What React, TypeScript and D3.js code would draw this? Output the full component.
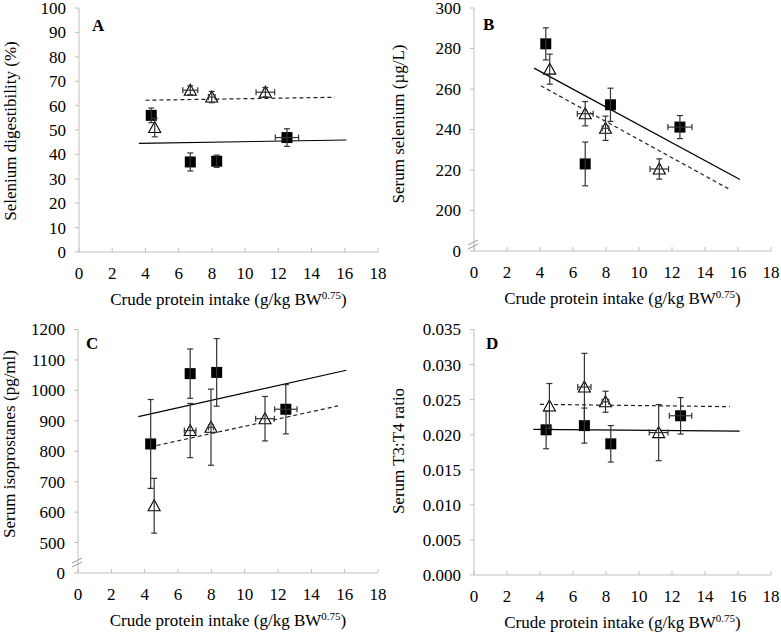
import React from "react";
import * as d3 from "d3";

// ---------- shared ----------
const xTicks = [0, 2, 4, 6, 8, 10, 12, 14, 16, 18];
const xTitleMain = "Crude protein intake (g/kg BW";
const xTitleSup = "0.75";
const xTitleEnd = ")";

// ---------- Panel A: Selenium digestibility ----------
const aYTicks = [0, 10, 20, 30, 40, 50, 60, 70, 80, 90, 100];
const aSqX = [4.35, 6.7, 8.29, 12.52];
const aSqY = [56.0, 36.9, 37.2, 46.9];
const aSqYErr = [3.0, 3.7, 2.5, 3.6];
const aSqXErr = [0, 0, 0, 0.7];
const aTriX = [4.56, 6.7, 7.99, 11.22];
const aTriY = [51.0, 66.3, 63.5, 65.5];
const aTriYErr = [3.8, 1.8, 2.3, 1.9];
const aTriXErr = [0, 0.45, 0.2, 0.56];
const aSolidX = [3.6, 16.1];
const aSolidY = [44.5, 45.9];
const aDashX = [4.0, 15.4];
const aDashY = [62.2, 63.4];

// ---------- Panel B: Serum selenium ----------
const bYTicks = [0, 200, 220, 240, 260, 280, 300];
const bSqX = [4.35, 6.74, 8.27, 12.48];
const bSqY = [282.3, 223.0, 252.2, 241.2];
const bSqYErr = [7.9, 10.8, 8.2, 5.7];
const bSqXErr = [0, 0, 0, 0.73];
const bTriX = [4.59, 6.74, 7.97, 11.23];
const bTriY = [269.8, 247.8, 240.6, 220.5];
const bTriYErr = [7.4, 6.0, 6.0, 5.0];
const bTriXErr = [0, 0.48, 0.2, 0.56];
const bSolidX = [3.64, 16.12];
const bSolidY = [270.3, 215.3];
const bDashX = [4.05, 15.41];
const bDashY = [261.6, 210.8];

// ---------- Panel C: Serum isoprostanes ----------
const cYTicks = [0, 500, 600, 700, 800, 900, 1000, 1100, 1200];
const cSqX = [4.36, 6.73, 8.32, 12.47];
const cSqY = [824, 1055, 1059, 938];
const cSqYErr = [146, 81, 111, 81];
const cSqXErr = [0, 0, 0, 0.67];
const cTriX = [4.57, 6.73, 7.98, 11.22];
const cTriY = [621, 868, 879, 907];
const cTriYErr = [90, 89, 125, 73];
const cTriXErr = [0, 0.35, 0.15, 0.56];
const cSolidX = [3.62, 16.1];
const cSolidY = [914, 1066];
const cDashX = [4.72, 15.6];
const cDashY = [819, 949];

// ---------- Panel D: Serum T3:T4 ratio ----------
const dYTicks = [0, 0.005, 0.01, 0.015, 0.02, 0.025, 0.03, 0.035];
const dSqX = [4.37, 6.69, 8.29, 12.52];
const dSqY = [0.0207, 0.0213, 0.0187, 0.0227];
const dSqYErr = [0.0027, 0.0025, 0.0026, 0.0026];
const dSqXErr = [0, 0, 0, 0.68];
const dTriX = [4.57, 6.69, 7.97, 11.19];
const dTriY = [0.0241, 0.0268, 0.0247, 0.0203];
const dTriYErr = [0.0032, 0.0048, 0.0015, 0.004];
const dTriXErr = [0, 0.4, 0.2, 0.57];
const dSolidX = [3.6, 16.1];
const dSolidY = [0.02077, 0.0205];
const dDashX = [4.0, 15.5];
const dDashY = [0.02433, 0.0240];

const FONT = "'Times New Roman', 'Liberation Serif', serif";
const AXIS = "#bfbfbf";
const ERR = "#333";

type PanelProps = {
  letter: string;
  letterPos: [number, number];
  x0: number;
  x1: number;
  yDomain: number[];
  yRange: number[];
  yTicks: number[];
  yFmt: (v: number) => string;
  yTitle: string;
  yTitlePos: [number, number];
  breakOffset: number | null;
  sqX: number[]; sqY: number[]; sqYErr: number[]; sqXErr: number[];
  triX: number[]; triY: number[]; triYErr: number[]; triXErr: number[];
  solidX: number[]; solidY: number[];
  dashX: number[]; dashY: number[];
};

function Panel(p: PanelProps) {
  const x = d3.scaleLinear().domain([0, 18]).range([p.x0, p.x1]);
  const y = d3.scaleLinear().domain(p.yDomain).range(p.yRange);
  const yBottom = y(p.yTicks[0]);
  const yTop = y(p.yTicks[p.yTicks.length - 1]);
  const line = d3.line<[number, number]>().x((d) => x(d[0])).y((d) => y(d[1]));
  const solid = p.solidX.map((v, i) => [v, p.solidY[i]] as [number, number]);
  const dash = p.dashX.map((v, i) => [v, p.dashY[i]] as [number, number]);
  const cap = 3;
  const half = 5.5;

  const errBars = (xs: number[], ys: number[], ye: number[], xe: number[], key: string) =>
    xs.map((xv, i) => {
      const cx = x(xv);
      const cy = y(ys[i]);
      const yl = y(ys[i] - ye[i]);
      const yh = y(ys[i] + ye[i]);
      const els = [
        <line key={key + "v" + i} x1={cx} x2={cx} y1={yl} y2={yh} stroke={ERR} strokeWidth={1.2} />,
        <line key={key + "vt" + i} x1={cx - cap} x2={cx + cap} y1={yh} y2={yh} stroke={ERR} strokeWidth={1.2} />,
        <line key={key + "vb" + i} x1={cx - cap} x2={cx + cap} y1={yl} y2={yl} stroke={ERR} strokeWidth={1.2} />,
      ];
      if (xe[i] > 0) {
        const xl = x(xv - xe[i]);
        const xh = x(xv + xe[i]);
        els.push(
          <line key={key + "h" + i} x1={xl} x2={xh} y1={cy} y2={cy} stroke={ERR} strokeWidth={1.2} />,
          <line key={key + "hl" + i} x1={xl} x2={xl} y1={cy - cap} y2={cy + cap} stroke={ERR} strokeWidth={1.2} />,
          <line key={key + "hr" + i} x1={xh} x2={xh} y1={cy - cap} y2={cy + cap} stroke={ERR} strokeWidth={1.2} />
        );
      }
      return <g key={key + i}>{els}</g>;
    });

  return (
    <g>
      {/* axes */}
      <line x1={p.x0} x2={p.x0} y1={yTop} y2={yBottom} stroke={AXIS} strokeWidth={1} />
      <line x1={p.x0} x2={p.x1} y1={yBottom} y2={yBottom} stroke={AXIS} strokeWidth={1} />
      {p.yTicks.map((t) => (
        <g key={"yt" + t}>
          <line x1={p.x0 - 4} x2={p.x0} y1={y(t)} y2={y(t)} stroke={AXIS} />
          <text x={p.x0 - 13} y={y(t)} dy="0.35em" textAnchor="end" fontFamily={FONT} fontSize={17} fill="#000">
            {p.yFmt(t)}
          </text>
        </g>
      ))}
      {xTicks.map((t) => (
        <g key={"xt" + t}>
          <line x1={x(t)} x2={x(t)} y1={yBottom} y2={yBottom - 4} stroke={AXIS} />
          <text x={x(t)} y={yBottom + 21} dy="0.35em" textAnchor="middle" fontFamily={FONT} fontSize={17} fill="#000">
            {t}
          </text>
        </g>
      ))}
      {p.breakOffset !== null && (
        <g>
          <line x1={p.x0 - 6} x2={p.x0 + 4} y1={yBottom - p.breakOffset + 2} y2={yBottom - p.breakOffset - 3} stroke="#999" strokeWidth={1} />
          <line x1={p.x0 - 6} x2={p.x0 + 4} y1={yBottom - p.breakOffset + 6} y2={yBottom - p.breakOffset + 1} stroke="#999" strokeWidth={1} />
        </g>
      )}
      {/* axis titles */}
      <text x={(p.x0 + p.x1) / 2} y={yBottom + 47} dy="0.35em" textAnchor="middle" fontFamily={FONT} fontSize={17} fill="#000">
        {xTitleMain}
        <tspan fontSize={11} dy="-0.55em">{xTitleSup}</tspan>
        <tspan dy="0.35em">{xTitleEnd}</tspan>
      </text>
      <text
        transform={`translate(${p.yTitlePos[0]},${p.yTitlePos[1]}) rotate(-90)`}
        dy="0.35em"
        textAnchor="middle"
        fontFamily={FONT}
        fontSize={17}
        fill="#000"
      >
        {p.yTitle}
      </text>
      <text x={p.letterPos[0]} y={p.letterPos[1]} dy="0.35em" fontFamily={FONT} fontSize={17} fontWeight="bold" fill="#000">
        {p.letter}
      </text>
      {/* trend lines */}
      <path d={line(solid) || ""} fill="none" stroke="#000" strokeWidth={1.2} />
      <path d={line(dash) || ""} fill="none" stroke="#222" strokeWidth={1.2} strokeDasharray="4,3" />
      {/* markers */}
      {p.sqX.map((xv, i) => (
        <rect key={"sq" + i} x={x(xv) - half} y={y(p.sqY[i]) - half} width={half * 2} height={half * 2} fill="#000" />
      ))}
      {p.triX.map((xv, i) => {
        const cx = x(xv);
        const cy = y(p.triY[i]);
        return (
          <path
            key={"tri" + i}
            d={`M${cx},${cy - 6} L${cx + 6},${cy + 5} L${cx - 6},${cy + 5} Z`}
            fill="#fff"
            stroke="#000"
            strokeWidth={1.1}
          />
        );
      })}
      {errBars(p.sqX, p.sqY, p.sqYErr, p.sqXErr, "se")}
      {errBars(p.triX, p.triY, p.triYErr, p.triXErr, "te")}
    </g>
  );
}

const fmtInt = (v: number) => String(v);
const fmt3 = (v: number) => d3.format(".3f")(v);

export default function App() {
  return (
    <svg width={781} height={633} style={{ position: "absolute", left: 0, top: 0, background: "#fff" }}>
      <rect width={781} height={633} fill="#fff" />
      <Panel
        letter="A" letterPos={[92, 25]}
        x0={79} x1={378}
        yDomain={[0, 100]} yRange={[252, 8]}
        yTicks={aYTicks} yFmt={fmtInt}
        yTitle="Selenium digestibility (%)" yTitlePos={[10, 131]}
        breakOffset={null}
        sqX={aSqX} sqY={aSqY} sqYErr={aSqYErr} sqXErr={aSqXErr}
        triX={aTriX} triY={aTriY} triYErr={aTriYErr} triXErr={aTriXErr}
        solidX={aSolidX} solidY={aSolidY} dashX={aDashX} dashY={aDashY}
      />
      <Panel
        letter="B" letterPos={[483, 24]}
        x0={474} x1={771}
        yDomain={[0, 180, 300]} yRange={[251, 251, 8]}
        yTicks={bYTicks} yFmt={fmtInt}
        yTitle="Serum selenium (µg/L)" yTitlePos={[398, 124]}
        breakOffset={8}
        sqX={bSqX} sqY={bSqY} sqYErr={bSqYErr} sqXErr={bSqXErr}
        triX={bTriX} triY={bTriY} triYErr={bTriYErr} triXErr={bTriXErr}
        solidX={bSolidX} solidY={bSolidY} dashX={bDashX} dashY={bDashY}
      />
      <Panel
        letter="C" letterPos={[86, 343]}
        x0={78} x1={378}
        yDomain={[0, 400, 1200]} yRange={[573, 573, 329.5]}
        yTicks={cYTicks} yFmt={fmtInt}
        yTitle="Serum isoprostanes (pg/ml)" yTitlePos={[9, 444]}
        breakOffset={12}
        sqX={cSqX} sqY={cSqY} sqYErr={cSqYErr} sqXErr={cSqXErr}
        triX={cTriX} triY={cTriY} triYErr={cTriYErr} triXErr={cTriXErr}
        solidX={cSolidX} solidY={cSolidY} dashX={cDashX} dashY={cDashY}
      />
      <Panel
        letter="D" letterPos={[486, 343]}
        x0={474} x1={771}
        yDomain={[0, 0.035]} yRange={[575, 329.5]}
        yTicks={dYTicks} yFmt={fmt3}
        yTitle="Serum T3:T4 ratio" yTitlePos={[398, 451]}
        breakOffset={null}
        sqX={dSqX} sqY={dSqY} sqYErr={dSqYErr} sqXErr={dSqXErr}
        triX={dTriX} triY={dTriY} triYErr={dTriYErr} triXErr={dTriXErr}
        solidX={dSolidX} solidY={dSolidY} dashX={dDashX} dashY={dDashY}
      />
    </svg>
  );
}
